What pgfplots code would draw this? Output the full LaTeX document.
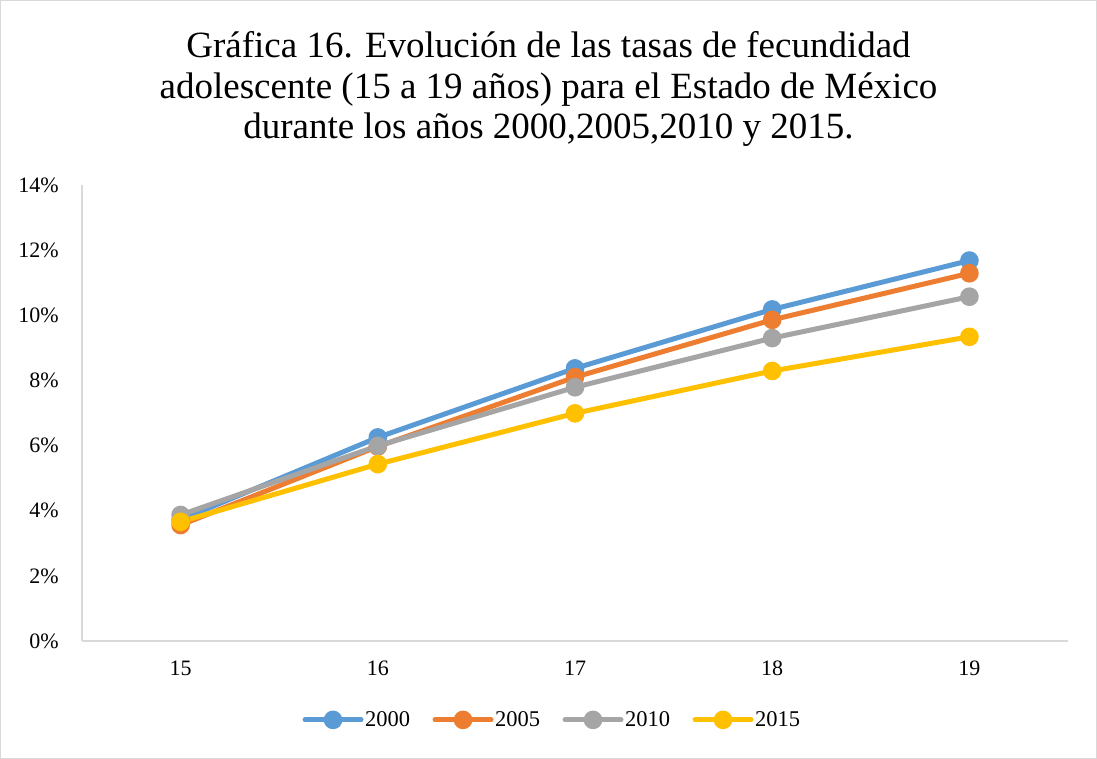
\documentclass[border=0pt]{standalone}
\usepackage{pgfplots}
\pgfplotsset{compat=1.18}
\usepackage{fontspec}
\setmainfont{Liberation Serif}
\definecolor{c2000}{HTML}{5B9BD5}
\definecolor{c2005}{HTML}{ED7D31}
\definecolor{c2010}{HTML}{A5A5A5}
\definecolor{c2015}{HTML}{FFC000}
\begin{document}
\begin{tikzpicture}[x=1pt,y=1pt]
\useasboundingbox (0,0) rectangle (1097,759);
\draw[gray!30, line width=1.2pt] (0.6,0.6) rectangle (1096.4,758.4);
\node[align=center, font=\fontsize{37}{40.5}\selectfont] at (548.5,670)
  {Gráfica 16. Evolución de las tasas de fecundidad\\
   adolescente (15 a 19 años) para el Estado de México\\
   durante los años 2000,2005,2010 y 2015.};
\begin{axis}[
    at={(82pt,118pt)}, anchor=south west,
    scale only axis, width=986pt, height=456pt,
    xmin=14.5, xmax=19.5, ymin=0, ymax=14,
    xtick={15,16,17,18,19}, ytick={0,2,...,14},
    axis lines*=left,
    axis line style={draw=gray!30, line width=1.2pt},
    major tick length=0pt,
    /pgf/number format/assume math mode=true,
    tick label style={font=\fontsize{22}{26}\selectfont, inner sep=0pt},
    yticklabel={\pgfmathprintnumber{\tick}\%},
    yticklabel style={anchor=east, xshift=-23pt},
    xticklabel style={anchor=north, yshift=-20pt},
    every axis plot/.append style={line width=5pt, line cap=round, line join=round,
        mark=*, mark size=6.8pt},
    legend columns=4,
    legend style={at={(0.4767,-0.173)}, anchor=center, draw=none,
        font=\fontsize{22.5}{26}\selectfont,
        nodes={inner sep=1.5pt},
        /tikz/every even column/.append style={column sep=21pt}},
    legend image code/.code={\draw[#1, mark repeat=2, mark phase=2]
        plot coordinates {(0pt,0pt) (28pt,0pt) (56pt,0pt)};},
]
\addplot[c2000, mark options={fill=c2000, draw=c2000}] coordinates {(15,3.72) (16,6.25) (17,8.37) (18,10.18) (19,11.68)};
\addlegendentry{2000}
\addplot[c2005, mark options={fill=c2005, draw=c2005}] coordinates {(15,3.56) (16,5.97) (17,8.10) (18,9.86) (19,11.29)};
\addlegendentry{2005}
\addplot[c2010, mark options={fill=c2010, draw=c2010}] coordinates {(15,3.87) (16,5.99) (17,7.79) (18,9.30) (19,10.57)};
\addlegendentry{2010}
\addplot[c2015, mark options={fill=c2015, draw=c2015}] coordinates {(15,3.66) (16,5.43) (17,6.99) (18,8.29) (19,9.34)};
\addlegendentry{2015}
\end{axis}
\end{tikzpicture}
\end{document}
